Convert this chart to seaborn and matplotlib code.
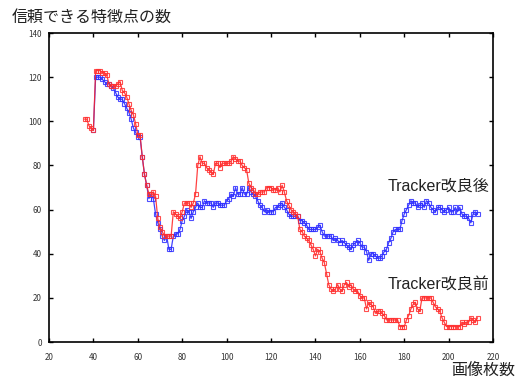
import matplotlib
matplotlib.use("Agg")
import matplotlib.pyplot as plt
import seaborn as sns
import pandas as pd

# Reliable feature-point counts per frame
before_start = 36
before = [101, 101, 98, 97, 96, 123, 123, 123, 122, 122,
          121, 117, 116, 116, 116, 117, 118, 114, 113, 111,
          108, 105, 103, 99, 94, 94, 84, 76, 71, 67,
          67, 68, 66, 56, 52, 50, 48, 48, 48, 48,
          59, 58, 57, 56, 59, 63, 63, 63, 61, 63,
          67, 80, 84, 81, 81, 79, 78, 77, 76, 81,
          81, 79, 81, 81, 81, 81, 82, 84, 83, 82,
          82, 80, 79, 78, 72, 70, 69, 67, 67, 68,
          68, 68, 70, 70, 70, 69, 69, 70, 68, 71,
          68, 64, 62, 60, 59, 58, 57, 51, 50, 48,
          47, 46, 44, 42, 39, 42, 41, 38, 36, 31,
          26, 24, 23, 24, 26, 24, 23, 26, 27, 25,
          26, 24, 23, 23, 21, 20, 20, 15, 18, 17,
          16, 13, 14, 14, 13, 12, 10, 10, 10, 10,
          10, 10, 7, 7, 7, 10, 12, 15, 17, 18,
          15, 14, 20, 20, 20, 20, 20, 18, 16, 15,
          14, 11, 9, 7, 7, 7, 7, 7, 7, 7,
          9, 8, 9, 9, 11, 10, 9, 11]

after_start = 40
after = [96, 120, 120, 120, 119, 118, 117, 117, 116, 115,
         113, 111, 110, 110, 108, 106, 104, 101, 97, 95,
         93, 93, 84, 76, 71, 65, 67, 65, 58, 54,
         51, 48, 46, 48, 42, 42, 48, 49, 49, 51,
         55, 57, 60, 59, 56, 59, 61, 63, 61, 61,
         64, 63, 63, 63, 61, 63, 63, 62, 62, 62,
         64, 65, 67, 66, 70, 67, 67, 70, 67, 67,
         70, 68, 67, 66, 64, 62, 61, 59, 60, 59,
         59, 59, 61, 61, 62, 63, 61, 60, 58, 57,
         57, 57, 57, 55, 55, 54, 53, 51, 51, 51,
         51, 52, 53, 50, 48, 48, 48, 48, 46, 47,
         46, 45, 46, 45, 44, 43, 42, 44, 45, 46,
         45, 43, 43, 41, 37, 40, 40, 39, 38, 38,
         39, 41, 42, 45, 47, 50, 51, 51, 51, 55,
         58, 60, 62, 64, 63, 63, 61, 62, 63, 61,
         64, 63, 61, 60, 59, 61, 61, 60, 59, 60,
         61, 59, 59, 61, 59, 61, 58, 57, 57, 56,
         54, 58, 59, 58]

x_ticks = [20, 40, 60, 80, 100, 120, 140, 160, 180, 200, 220]
y_ticks = [0, 20, 40, 60, 80, 100, 120, 140]

df_before = pd.DataFrame({"frame": range(before_start, before_start + len(before)),
                          "count": before})
df_after = pd.DataFrame({"frame": range(after_start, after_start + len(after)),
                         "count": after})

sns.set_theme(style="white")
plt.rcParams["font.family"] = ["Noto Sans CJK JP", "DejaVu Sans"]

fig = plt.figure(figsize=(5.19, 3.80), dpi=100)
ax = fig.add_axes([0.0944, 0.1, 0.8556, 0.813])

common = dict(marker="s", markersize=3.2, markerfacecolor="none",
              markeredgewidth=0.8, linewidth=0.9, ax=ax)
sns.lineplot(data=df_after, x="frame", y="count", color="#2020ff",
             markeredgecolor="#3030ff", alpha=0.85, **common)
sns.lineplot(data=df_before, x="frame", y="count", color="#ff2020",
             markeredgecolor="#ff3030", alpha=0.85, **common)

ax.set_xlim(20, 220)
ax.set_ylim(0, 140)
ax.set_xticks(x_ticks)
ax.set_yticks(y_ticks)
ax.set_xticklabels([str(t) for t in x_ticks])
ax.set_yticklabels([str(t) for t in y_ticks])
ax.set_xlabel("")
ax.set_ylabel("")
for side in ["left", "right", "top", "bottom"]:
    ax.spines[side].set_visible(True)
    ax.spines[side].set_color("black")
    ax.spines[side].set_linewidth(1.2)
ax.tick_params(axis="both", which="both", direction="in", length=3, width=1,
               top=True, right=True, bottom=True, left=True,
               labelsize=5.8, labelcolor="#333333", colors="black")
ax.tick_params(axis="x", pad=8, labelcolor="#333333")
ax.tick_params(axis="y", pad=5, labelcolor="#333333")
ax.grid(False)

label_font = ["Liberation Sans", "Noto Sans CJK JP"]
fig.text(12 / 519, 1 - 17 / 380, "信頼できる特徴点の数", fontsize=11.5,
         ha="left", va="center", color="#222222")
fig.text(515 / 519, 1 - 370 / 380, "画像枚数", fontsize=11.5,
         ha="right", va="center", color="#222222")
ax.text(218.5, 70.7, "Tracker改良後", fontsize=11.5, ha="right", va="center",
        color="#222222", family=label_font)
ax.text(218.5, 26.3, "Tracker改良前", fontsize=11.5, ha="right", va="center",
        color="#222222", family=label_font)

fig.savefig("out.png", dpi=100)
